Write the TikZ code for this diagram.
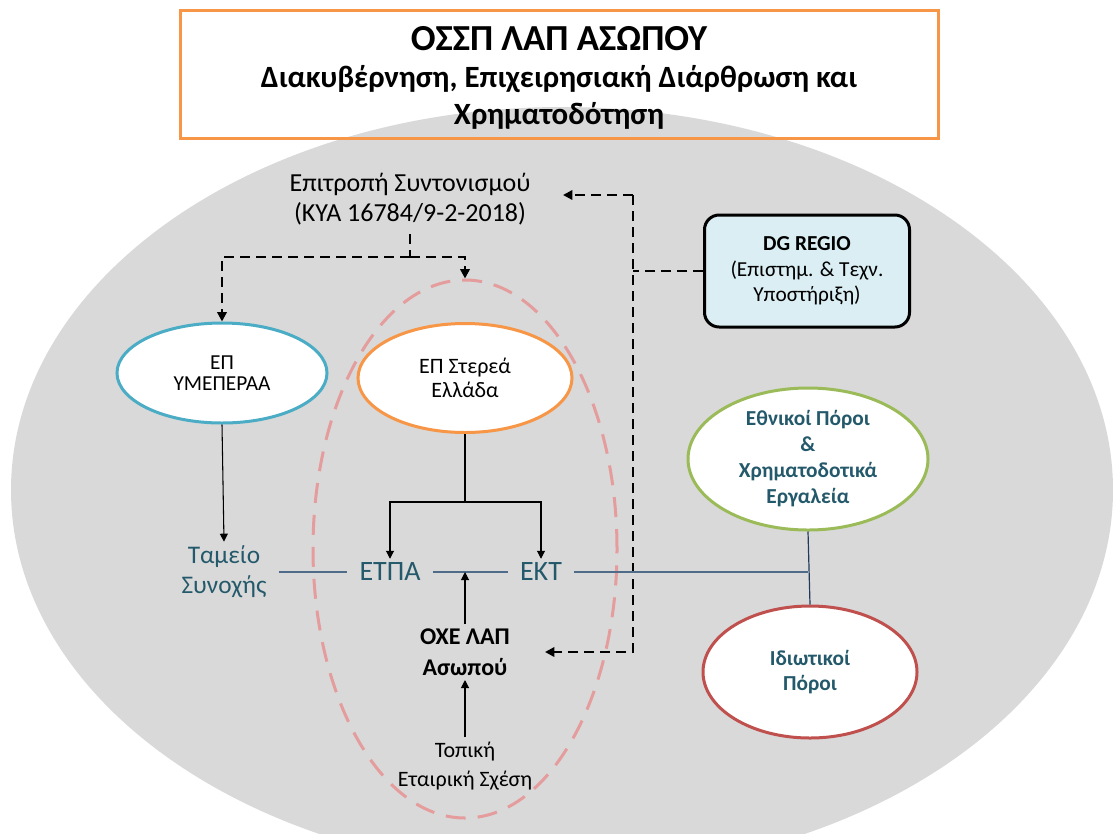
\documentclass[tikz,border=0pt]{standalone}
\usepackage{fontspec}
\setmainfont{Carlito}
\usetikzlibrary{shapes.geometric,arrows.meta}

\definecolor{titleorange}{HTML}{F79646}
\definecolor{bggray}{HTML}{D9D9D9}
\definecolor{opblue}{HTML}{4BACC6}
\definecolor{fundteal}{HTML}{23596A}
\definecolor{linkslate}{HTML}{4F6B8A}
\definecolor{linknavy}{HTML}{1F3A5A}
\definecolor{natgreen}{HTML}{9BBB59}
\definecolor{privred}{HTML}{C0504D}
\definecolor{zonepink}{HTML}{E59C9C}
\definecolor{regioblue}{HTML}{DAEEF3}
\newcommand{\fsz}[2]{\fontsize{#1}{#2}\selectfont}

\begin{document}
\begin{tikzpicture}[x=0.75pt, y=-0.75pt,
  opnode/.style={ellipse, draw, line width=2.25pt, fill=white, inner sep=0pt, align=center},
  fund/.style={text=fundteal, align=center, inner xsep=9pt, inner ysep=3pt},
  link/.style={draw=linkslate, line width=0.9pt},
  flow/.style={-{Triangle[length=6pt,width=6pt]}, line width=0.8pt},
  ctrlline/.style={dash pattern=on 7.5pt off 4.5pt, line width=1.7pt},
  ctrl/.style={ctrlline, -{Triangle[length=7pt,width=7pt]}}]
  \useasboundingbox (0,0) rectangle (1113,833);

  % background and title
  \node[ellipse, fill=bggray, inner sep=0pt, minimum width=826.5pt, minimum height=574.5pt] (field) at (562,490) {};
  \node[draw=titleorange, line width=2.25pt, minimum width=568.5pt, minimum height=96pt] (title) at (559,74) {};
  \node[align=center, font=\bfseries\fsz{23.2pt}{27.5pt}] (titletext) at (559,78)
    {{\fsz{27.5pt}{27.5pt}ΟΣΣΠ ΛΑΠ ΑΣΩΠΟΥ}\\Διακυβέρνηση, Επιχειρησιακή Διάρθρωση και\\Χρηματοδότηση};

  % coordination
  \node[align=center, font=\fsz{19.5pt}{22pt}, inner sep=2pt] (epitr) at (410,199)
    {Επιτροπή Συντονισμού\\(ΚΥΑ 16784/9-2-2018)};
  \node[draw, line width=2.25pt, fill=regioblue, rounded corners=11pt, minimum width=153.75pt,
        minimum height=84pt, align=center, font=\fsz{16pt}{19pt}] (regio) at (807,271)
    {\textbf{DG REGIO}\\(Επιστημ. \& Τεχν.\\Υποστήριξη)};

  % zone of the local partnership
  \node[ellipse, draw=zonepink, line width=2.25pt, dash pattern=on 15pt off 9pt,
        minimum width=228pt, minimum height=403.5pt] (oxezone) at (465,549) {};

  % programmes and funds
  \node[opnode, draw=opblue, minimum width=157.5pt, minimum height=75pt, font=\fsz{16pt}{16pt}] (ymep) at (222,373) {ΕΠ\\ΥΜΕΠΕΡΑΑ};
  \node[opnode, draw=titleorange, minimum width=160.5pt, minimum height=81.75pt, font=\fsz{16.5pt}{18pt}] (sterea) at (465,378) {ΕΠ Στερεά\\Ελλάδα};
  \node[fund, font=\fsz{19pt}{22.5pt}] (tameio) at (224,572) {Ταμείο\\Συνοχής};
  \node[fund, font=\fsz{21pt}{24pt}] (etpa) at (390,572) {ΕΤΠΑ};
  \node[fund, font=\fsz{21pt}{24pt}] (ekt) at (541,572) {ΕΚΤ};
  \node[align=center, font=\bfseries\fsz{18pt}{23pt}] (oxe) at (465,652) {ΟΧΕ ΛΑΠ\\Ασωπού};
  \node[align=center, font=\fsz{16.5pt}{21.75pt}] (topiki) at (465,766) {Τοπική\\Εταιρική Σχέση};
  \node[opnode, draw=natgreen, minimum width=180pt, minimum height=106.5pt, text=fundteal,
        font=\bfseries\fsz{16pt}{19.5pt}] (natres) at (808,459) {Εθνικοί Πόροι\\\&\\Χρηματοδοτικά\\Εργαλεία};
  \node[opnode, draw=privred, minimum width=160.5pt, minimum height=99pt, text=fundteal,
        font=\bfseries\fsz{16pt}{19pt}] (privres) at (810,672) {Ιδιωτικοί\\Πόροι};

  % dashed control lines
  \coordinate (split) at (410,257);
  \coordinate (bustop) at (633,195);
  \coordinate (busbot) at (633,652);
  \coordinate (epitrin) at (563,195);
  \coordinate (oxein) at (545,652);
  \draw[ctrlline] ([yshift=-5pt]epitr.south) -- (split);
  \draw[ctrl] (split) -| (ymep.north);
  \draw[ctrl] (split) -| (oxezone.north);
  \draw[ctrl] (bustop) -- (epitrin);
  \draw[ctrl] (bustop) -- (busbot) -- (oxein);
  \draw[ctrlline] (regio.west) -- (regio.west -| bustop);

  % funding flows
  \coordinate (fork) at (465,502);
  \draw[line width=0.8pt] (sterea.south) -- (fork);
  \draw[flow] (fork) -| (etpa.north);
  \draw[flow] (fork) -| (ekt.north);
  \draw[flow] (ymep.south) -- (tameio.north);
  \draw[link] (tameio.east) -- (etpa.west);
  \draw[link] (etpa.east) -- (ekt.west);
  \draw[link] (ekt.east) -- (ekt.east -| natres.south);
  \draw[draw=linknavy, line width=0.9pt] (natres.south) -- (privres.north);
  \draw[flow] (oxe.north) -- (etpa.east -| oxe.north);
  \draw[flow] (topiki.north) -- (oxe.south);
\end{tikzpicture}
\end{document}
